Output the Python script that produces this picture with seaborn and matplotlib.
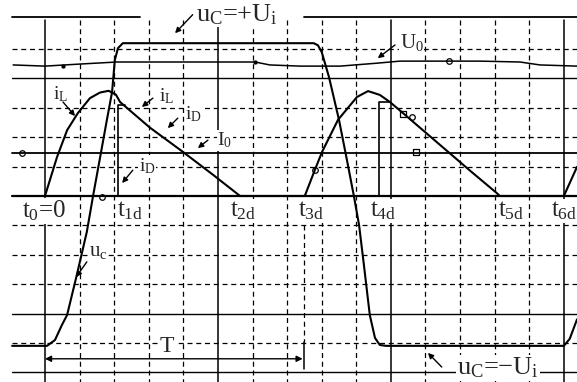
import matplotlib
matplotlib.use("Agg")
import matplotlib.pyplot as plt
import seaborn as sns

# scope trace, x and y in grid divisions
uc_x = [-0.95, 0.06, 0.29, 0.49, 0.64, 0.92, 1.21, 1.39, 1.59, 1.79, 1.94, 2.02, 2.11, 2.25,
        7.77, 7.89, 8.0, 8.21, 8.5, 8.73, 8.93, 9.08, 9.22, 9.39, 9.54, 9.68, 9.86,
        15.0, 15.17, 15.38]
uc_y = [-5.1, -5.1, -4.9, -4.39, -4.05, -2.69, -1.22, 0.0, 1.29, 2.59, 3.54, 4.63, 5.03, 5.2,
        5.2, 5.13, 4.9, 4.05, 2.59, 1.22, 0.0, -0.99, -2.35, -4.05, -4.83, -5.07, -5.1,
        -5.1, -4.86, -4.2]

il_x = [0.0, 0.35, 0.64, 0.95, 1.30, 1.59, 1.84, 2.05, 2.17, 3.03, 3.99, 4.86, 5.64,
        7.51, 7.80, 8.01, 8.47, 9.02, 9.34, 9.68, 9.97, 10.40, 11.33, 12.3, 13.06, 13.15,
        15.0, 15.38]
il_y = [0.0, 1.33, 2.24, 2.82, 3.33, 3.52, 3.58, 3.45, 3.2, 2.33, 1.5, 0.72, 0.0,
        0.0, 0.88, 1.50, 2.59, 3.37, 3.57, 3.44, 3.2, 2.77, 1.83, 0.85, 0.1, 0.0,
        0.0, 0.99]

# diode current jumps at t1d and t4d
id1_x = [2.11, 2.11, 2.3]
id1_y = [0.0, 3.1, 3.1]
id2_x = [9.65, 9.65, 9.95]
id2_y = [0.0, 3.2, 3.2]

u0_x = [-0.92, 0.0, 1.01, 2.08, 5.0, 6.07, 6.5, 7.37, 8.53, 9.6, 10.26, 12.57, 13.73, 14.31, 15.38]
u0_y = [4.46, 4.42, 4.49, 4.56, 4.56, 4.56, 4.46, 4.42, 4.42, 4.52, 4.59, 4.59, 4.56, 4.46, 4.42]

i0_level = 1.46
t_period = 7.45

t_names = ["$t_0$=0", "$t_{1d}$", "$t_{2d}$", "$t_{3d}$", "$t_{4d}$", "$t_{5d}$", "$t_{6d}$"]
t_pos = [-0.03, 2.45, 5.72, 7.69, 9.77, 13.47, 15.38]

dot_x = [0.52, 6.07]
dot_y = [4.42, 4.56]
ring_x = [-0.66, 11.68, 10.6, 7.8, 1.65]
ring_y = [1.46, 4.59, 2.68, 0.88, -0.04]
box_x = [10.72, 10.35]
box_y = [1.5, 2.78]

sns.set_style("white")
plt.rcParams["font.family"] = ["Liberation Serif", "DejaVu Serif"]
plt.rcParams["mathtext.fontset"] = "custom"
plt.rcParams["mathtext.rm"] = "Liberation Serif"
plt.rcParams["mathtext.it"] = "Liberation Serif"

fig = plt.figure(figsize=(5.77, 3.82), dpi=100)
ax = fig.add_axes([0, 0, 1, 1])
ax.set_xlim(-1.30, 15.38)
ax.set_ylim(-6.33, 6.67)
ax.axis("off")

dash = (0, (4, 3))
x0, x1 = -0.95, 15.38

# screen grid
for y in [5, 3, 2, 1, -1, -2, -3, -5]:
    ax.plot([x0, x1], [y, y], color="k", lw=0.9, ls=dash)
for y in [4, -4, -6]:
    ax.plot([x0, x1], [y, y], color="k", lw=1.0)
ax.plot([x0, 2.75], [6.08, 6.08], color="k", lw=1.3)
ax.plot([7.49, x1], [6.08, 6.08], color="k", lw=1.3)
for x in range(1, 15):
    if x % 5:
        ax.plot([x, x], [6.0, -6.4], color="k", lw=0.9, ls=dash)
for x in [0, 5, 10, 15]:
    ax.plot([x, x], [6.0, -6.4], color="k", lw=1.1)
ax.plot([7.5, 7.5], [-1.0, -4.97], color="k", lw=0.9, ls=dash)
ax.plot([7.5, 7.5], [-4.97, -5.88], color="k", lw=1.1)

# zero axis and I0 level
ax.plot([x0, x1], [0, 0], color="k", lw=1.6)
ax.plot([x0, x1], [i0_level, i0_level], color="k", lw=1.3)

kw = dict(color="k", sort=False, estimator=None, ax=ax, legend=False)
sns.lineplot(x=u0_x, y=u0_y, lw=1.1, **kw)
sns.lineplot(x=uc_x, y=uc_y, lw=1.5, **kw)
sns.lineplot(x=il_x, y=il_y, lw=1.5, **kw)
sns.lineplot(x=id1_x, y=id1_y, lw=1.2, **kw)
sns.lineplot(x=id2_x, y=id2_y, lw=1.2, **kw)

sns.scatterplot(x=dot_x, y=dot_y, color="k", s=12, ax=ax, legend=False)
sns.scatterplot(x=ring_x, y=ring_y, facecolor="white", edgecolor="k", s=16, linewidth=0.9, ax=ax, legend=False)
sns.scatterplot(x=box_x, y=box_y, marker="s", facecolor="white", edgecolor="k", s=16, linewidth=0.9, ax=ax, legend=False)

wb = dict(facecolor="white", edgecolor="none", pad=0.5)
for name, x in zip(t_names, t_pos):
    ha = "right" if x > 15 else "center"
    ax.text(x, -0.5, name, fontsize=18, ha=ha, va="center", bbox=wb)

ax.annotate("", xy=(0, -5.54), xytext=(t_period, -5.54),
            arrowprops=dict(arrowstyle="<|-|>", color="k", lw=1.0, mutation_scale=9, shrinkA=0, shrinkB=0))
ax.text(3.53, -5.12, "T", fontsize=17, ha="center", va="center", bbox=wb)

labels = [
    ("$u_C$=+$U_i$", 5.55, 6.18, 19, (4.27, 6.17), (3.76, 5.54)),
    ("$U_0$", 10.6, 5.22, 15, (10.12, 5.14), (9.62, 4.69)),
    ("$i_L$", 0.45, 3.45, 14, (0.52, 3.2), (0.87, 2.72)),
    ("$i_L$", 3.5, 3.4, 14, (3.12, 3.33), (2.8, 3.03)),
    ("$i_D$", 4.3, 2.78, 14, (3.84, 2.65), (3.55, 2.31)),
    ("$I_0$", 5.2, 1.9, 14, (4.71, 1.9), (4.42, 1.63)),
    ("$i_D$", 2.95, 1.02, 14, (2.54, 0.88), (2.23, 0.44)),
    ("$u_c$", 1.55, -1.9, 15, (1.21, -2.24), (0.9, -2.76)),
    ("$u_C$=$-U_i$", 13.1, -5.85, 19, (11.47, -5.82), (11.07, -5.34)),
]
for text, tx, ty, fs, tail, head in labels:
    ax.text(tx, ty, text, fontsize=fs, ha="center", va="center", bbox=wb)
    ax.annotate("", xy=head, xytext=tail,
                arrowprops=dict(arrowstyle="-|>", color="k", lw=1.0, mutation_scale=8, shrinkA=0, shrinkB=0))

fig.savefig("out.png", dpi=100)
